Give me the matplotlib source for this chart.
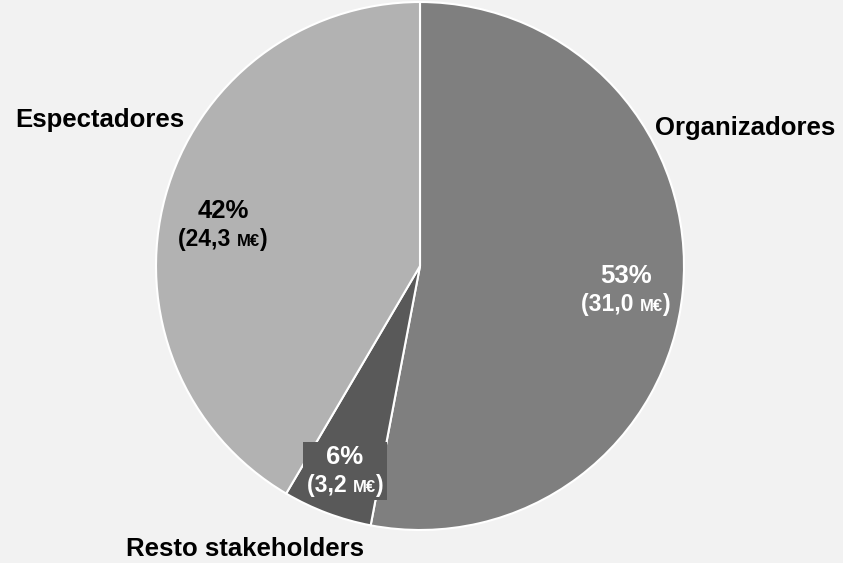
import matplotlib
matplotlib.use("Agg")
import matplotlib.pyplot as plt
from matplotlib.offsetbox import TextArea, HPacker, VPacker, AnnotationBbox

plt.rcParams['font.family'] = ['Liberation Sans', 'DejaVu Sans']

# data (M€)
labels = ['Organizadores', 'Resto stakeholders', 'Espectadores']
values = [31.0, 3.2, 24.3]
pct_txt = ['53%', '6%', '42%']
money_txt = ['31,0', '3,2', '24,3']
colors = ['#7f7f7f', '#595959', '#b2b2b2']
txt_colors = ['white', 'white', 'black']

W, H = 843, 563
fig = plt.figure(figsize=(W / 100, H / 100), dpi=100, facecolor='#f2f2f2')
cx, cy, r = 420, 266, 264
ax = fig.add_axes([(cx - r) / W, (H - cy - r) / H, 2 * r / W, 2 * r / H])
ax.set_facecolor('#f2f2f2')

ax.pie(values, colors=colors, startangle=90, counterclock=False, radius=1,
       wedgeprops=dict(edgecolor='white', linewidth=1.5))
ax.set_xlim(-1, 1)
ax.set_ylim(-1, 1)
ax.set_aspect('equal')
ax.axis('off')


def px(x, y):
    return ((x - cx) / r, (cy - y) / r)


# category labels
lab_pos = [(745, 128), (245, 549), (100, 120)]
for lab, p in zip(labels, lab_pos):
    ax.text(*px(*p), lab, ha='center', va='center', fontsize=18.5,
            fontweight='bold', color='black', clip_on=False)

# value labels
val_pos = [(626, 290), (345, 471), (223, 225)]
for i, p in enumerate(val_pos):
    c = txt_colors[i]
    top = TextArea(pct_txt[i], textprops=dict(fontsize=18.5, fontweight='bold', color=c))
    line = HPacker(children=[
        TextArea('(' + money_txt[i] + ' ', textprops=dict(fontsize=16.5, fontweight='bold', color=c)),
        TextArea('M€', textprops=dict(fontsize=12, fontweight='bold', color=c)),
        TextArea(')', textprops=dict(fontsize=16.5, fontweight='bold', color=c)),
    ], align='baseline', pad=0, sep=0)
    box = VPacker(children=[top, line], align='center', pad=0, sep=3)
    framed = i == 1
    ab = AnnotationBbox(box, px(*p), frameon=framed, pad=0.25, box_alignment=(0.5, 0.5),
                        zorder=5)
    if framed:
        ab.patch.set_facecolor(colors[1])
        ab.patch.set_edgecolor('none')
    ax.add_artist(ab)

fig.savefig('out.png', dpi=100, facecolor=fig.get_facecolor())
